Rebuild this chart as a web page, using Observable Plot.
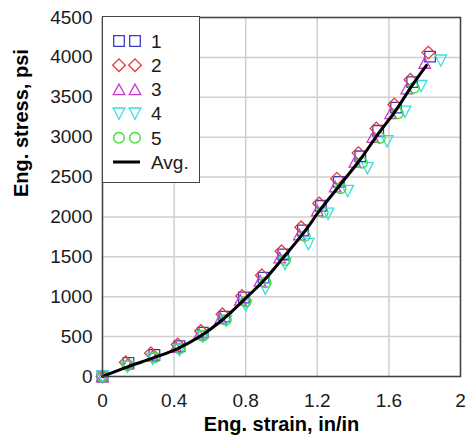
<!DOCTYPE html>
<html>
<head>
<meta charset="utf-8">
<script src="https://cdn.jsdelivr.net/npm/d3@7"></script>
<script src="https://cdn.jsdelivr.net/npm/@observablehq/plot@0.6"></script>
<style>
  html, body { margin: 0; padding: 0; background: #fff; }
  #wrap { position: relative; width: 467px; height: 440px; font-family: "Liberation Sans", Arial, sans-serif; }
  #legend { position: absolute; left: 102px; top: 16px; width: 98px; height: 167px; background: #fff; border: 1.5px solid #444; box-sizing: border-box; }
</style>
</head>
<body>
<div id="wrap"></div>
<script>
// ---- data ----
const seriesNames = ["1", "2", "3", "4", "5"];
const avgName = "Avg.";

const strain1 = [0, 0.145, 0.29, 0.43, 0.56, 0.68, 0.79, 0.90, 1.01, 1.12, 1.22, 1.32, 1.44, 1.54, 1.64, 1.73, 1.83];
const stress1 = [0, 170, 270, 380, 550, 750, 990, 1240, 1530, 1830, 2140, 2440, 2760, 3080, 3370, 3690, 4010];

const strain2 = [0, 0.13, 0.27, 0.42, 0.55, 0.67, 0.78, 0.89, 1.00, 1.11, 1.21, 1.31, 1.43, 1.53, 1.63, 1.72, 1.82];
const stress2 = [0, 180, 290, 400, 570, 780, 1010, 1270, 1570, 1870, 2170, 2480, 2800, 3110, 3410, 3720, 4060];

const strain3 = [0, 0.14, 0.28, 0.41, 0.54, 0.66, 0.77, 0.88, 0.99, 1.10, 1.20, 1.30, 1.41, 1.51, 1.61, 1.70, 1.80];
const stress3 = [0, 160, 260, 370, 530, 730, 960, 1200, 1490, 1780, 2080, 2380, 2690, 3000, 3300, 3610, 3930];

const strain4 = [0, 0.14, 0.28, 0.43, 0.56, 0.69, 0.80, 0.91, 1.02, 1.15, 1.26, 1.37, 1.48, 1.59, 1.69, 1.78, 1.89];
const stress4 = [0, 120, 220, 330, 500, 700, 890, 1100, 1410, 1660, 2040, 2325, 2610, 2950, 3320, 3640, 3960];

const strain5 = [0, 0.14, 0.29, 0.43, 0.56, 0.69, 0.80, 0.91, 1.02, 1.13, 1.23, 1.33, 1.45, 1.55, 1.65, 1.74];
const stress5 = [0, 140, 240, 350, 510, 710, 940, 1180, 1460, 1760, 2060, 2360, 2680, 2990, 3300, 3620];

const strainAvg = [0, 0.14, 0.28, 0.42, 0.55, 0.68, 0.79, 0.90, 1.01, 1.12, 1.22, 1.33, 1.44, 1.54, 1.64, 1.73, 1.81];
const stressAvg = [0, 120, 230, 350, 510, 730, 960, 1200, 1490, 1790, 2100, 2410, 2720, 3040, 3340, 3650, 3900];

const xTicks = [0, 0.4, 0.8, 1.2, 1.6, 2];
const yTicks = [0, 500, 1000, 1500, 2000, 2500, 3000, 3500, 4000, 4500];
const xTitle = "Eng. strain, in/in";
const yTitle = "Eng. stress, psi";

// ---- styles ----
const colors = ["#3a3ac8", "#e03a3a", "#cc3acc", "#3adede", "#3ade3a"];
const symSquare = {draw(c) { const h = 5.3; c.moveTo(-h, -h); c.lineTo(h, -h); c.lineTo(h, h); c.lineTo(-h, h); c.closePath(); }};
const symDiamond = {draw(c) { const h = 6.3; c.moveTo(0, -h); c.lineTo(h, 0); c.lineTo(0, h); c.lineTo(-h, 0); c.closePath(); }};
const symTriUp = {draw(c) { const w = 5.8, h = 5.3; c.moveTo(0, -h); c.lineTo(w, h); c.lineTo(-w, h); c.closePath(); }};
const symTriDown = {draw(c) { const w = 5.8, h = 5.6; c.moveTo(0, h); c.lineTo(w, -h); c.lineTo(-w, -h); c.closePath(); }};
const symCircle = {draw(c) { const r = 5.3; c.moveTo(r, 0); c.arc(0, 0, r, 0, 2 * Math.PI); c.closePath(); }};
const symbols = [symSquare, symDiamond, symTriUp, symTriDown, symCircle];

const strains = [strain1, strain2, strain3, strain4, strain5];
const stresses = [stress1, stress2, stress3, stress4, stress5];
const seriesData = strains.map((xs, i) => xs.map((x, j) => ({strain: x, stress: stresses[i][j], series: seriesNames[i]})));
const avgData = strainAvg.map((x, j) => ({strain: x, stress: stressAvg[j]}));

const chart = Plot.plot({
  width: 467,
  height: 440,
  marginLeft: 102,
  marginRight: 7,
  marginTop: 17,
  marginBottom: 64,
  style: {fontSize: "19px", fontFamily: "Liberation Sans, Arial, sans-serif", color: "#1a1a1a", background: "#fff"},
  x: {domain: [0, 2]},
  y: {domain: [0, 4500]},
  marks: [
    Plot.gridX(xTicks, {stroke: "#cfcfcf", strokeOpacity: 1, strokeWidth: 1.5}),
    Plot.gridY(yTicks, {stroke: "#cfcfcf", strokeOpacity: 1, strokeWidth: 1.5}),
    Plot.axisX(xTicks, {tickSize: 0, tickPadding: 17, tickFormat: d => String(d), label: null, fontSize: 19}),
    Plot.axisY(yTicks, {tickSize: 0, tickPadding: 10, tickFormat: d => String(d), label: null, fontSize: 19}),
    ...seriesData.map((d, i) => Plot.dot(d, {x: "strain", y: "stress", symbol: symbols[i], stroke: colors[i], fill: "none", strokeWidth: 1.3})),
    Plot.line(avgData, {x: "strain", y: "stress", stroke: "#000", strokeWidth: 3, curve: "catmull-rom"}),
    Plot.frame({stroke: "#444", strokeWidth: 1.5}),
    Plot.text([xTitle], {frameAnchor: "bottom", lineAnchor: "bottom", dy: 54, fontWeight: "bold", fontSize: 20, fill: "#000"}),
    Plot.text([yTitle], {frameAnchor: "left", rotate: -90, dx: -81, fontWeight: "bold", fontSize: 20, fill: "#000"})
  ]
});

const wrap = document.getElementById("wrap");
wrap.appendChild(chart);

// ---- legend (inside the frame, top-left) ----
const legendDiv = document.createElement("div");
legendDiv.id = "legend";
wrap.appendChild(legendDiv);
const lg = d3.select(legendDiv).append("svg").attr("width", 96).attr("height", 164)
  .style("position", "absolute").style("left", "0").style("top", "0");
const rowY = i => 24 + i * 24.2;
seriesNames.forEach((name, i) => {
  [16, 32].forEach(cx => {
    lg.append("path")
      .attr("d", d3.symbol().type(symbols[i])())
      .attr("transform", `translate(${cx},${rowY(i)})`)
      .attr("fill", "none").attr("stroke", colors[i]).attr("stroke-width", 1.3);
  });
  lg.append("text").attr("x", 48).attr("y", rowY(i)).attr("dy", "0.36em")
    .attr("font-size", 19).attr("font-family", "Liberation Sans, Arial, sans-serif").attr("fill", "#1a1a1a").text(name);
});
lg.append("line").attr("x1", 10).attr("x2", 37).attr("y1", rowY(5)).attr("y2", rowY(5))
  .attr("stroke", "#000").attr("stroke-width", 3);
lg.append("text").attr("x", 48).attr("y", rowY(5)).attr("dy", "0.36em")
  .attr("font-size", 19).attr("font-family", "Liberation Sans, Arial, sans-serif").attr("fill", "#1a1a1a").text(avgName);
</script>
</body>
</html>
